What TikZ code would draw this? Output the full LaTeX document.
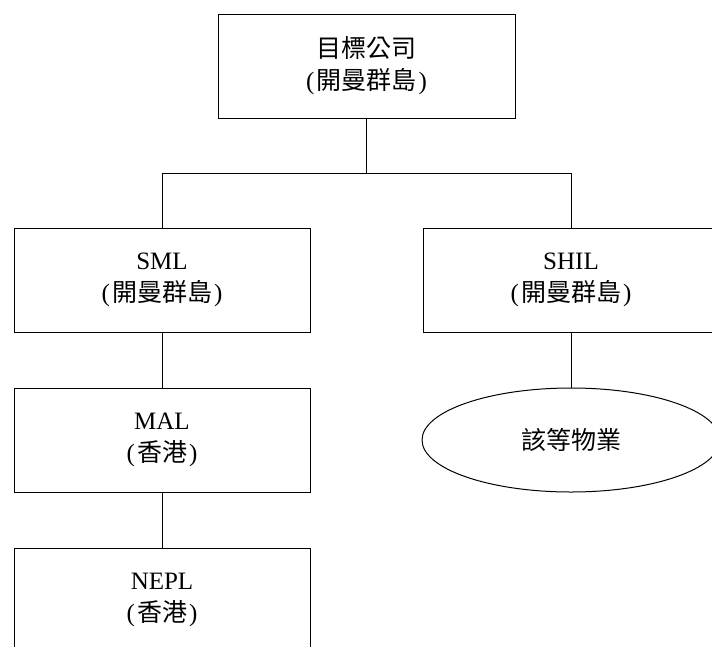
\documentclass[tikz,border=0pt]{standalone}
\usepackage{fontspec}
\setmainfont{Liberation Serif}
\newfontfamily\cjk{Noto Sans CJK TC}
\newcommand{\cjkparen}[1]{(\hspace{2pt}{\cjk #1}\hspace{2pt})}
\usetikzlibrary{shapes.geometric}
\tikzset{
  orgbox/.style={draw, rectangle, minimum width=296pt, minimum height=104pt, align=center, inner sep=0pt, line width=1pt, font=\fontsize{25}{32}\selectfont},
  assetell/.style={draw, ellipse, minimum width=298pt, minimum height=104pt, inner sep=0pt, line width=1pt, font=\fontsize{25}{32}\selectfont},
  link/.style={line width=1pt}
}
\begin{document}
\begin{tikzpicture}[x=1pt,y=-1pt]
\useasboundingbox (0,0) rectangle (712,646);
\clip (0,0) rectangle (712,646);
\node[orgbox, minimum width=297pt] (top) at (366.5,66) {{\cjk 目標公司}\\\cjkparen{開曼群島}};
\node[orgbox] (sml) at (162,280) {SML\\\cjkparen{開曼群島}};
\node[orgbox] (shil) at (571,280) {SHIL\\\cjkparen{開曼群島}};
\node[orgbox] (mal) at (162,440) {MAL\\\cjkparen{香港}};
\node[orgbox] (nepl) at (162,600) {NEPL\\\cjkparen{香港}};
\node[assetell] (prop) at (571,440) {\cjk 該等物業};
\draw[link] (top.south) -- ++(0,55) coordinate (j);
\draw[link] (sml.north) |- (j) -| (shil.north);
\draw[link] (sml.south) -- (mal.north);
\draw[link] (mal.south) -- (nepl.north);
\draw[link] (shil.south) -- (prop.north);
\end{tikzpicture}
\end{document}
